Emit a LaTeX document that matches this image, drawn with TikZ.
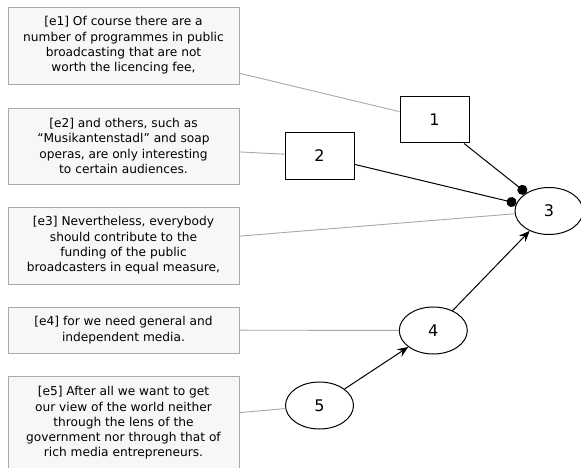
\documentclass[tikz,border=0pt]{standalone}
\usepackage{fontspec}
\setmainfont{DejaVu Sans}
\usetikzlibrary{shapes.geometric,arrows.meta}
\definecolor{boxfill}{HTML}{F7F7F7}
\definecolor{boxline}{HTML}{AAAAAA}
\definecolor{linkgray}{HTML}{A8A8A8}
\tikzset{
  textbox/.style={draw=boxline, fill=boxfill, line width=0.9pt, rectangle, minimum width=231pt, inner sep=0pt, align=center, font=\fontsize{12.2}{15.3}\selectfont},
  rectnode/.style={draw=black, line width=1pt, rectangle, minimum width=69pt, minimum height=46pt, inner sep=0pt, font=\fontsize{16}{19}\selectfont},
  ellnode/.style={draw=black, line width=1pt, ellipse, minimum width=68pt, minimum height=47pt, inner sep=0pt, font=\fontsize{16}{19}\selectfont},
  link/.style={draw=linkgray, line width=0.9pt},
  attack/.style={draw=black, line width=1pt, -{Circle[length=10pt]}},
  support/.style={draw=black, line width=1pt, -{Stealth[length=11pt, width=9pt, inset=4pt]}}
}
\begin{document}
\begin{tikzpicture}[x=1pt, y=-1pt]
\useasboundingbox (0,0) rectangle (581,468);
\node[textbox, minimum height=77pt] (e1) at (123.5,45.5) {[e1] Of course there are a\\number of programmes in public\\broadcasting that are not\\worth the licencing fee,};
\node[textbox, minimum height=76pt] (e2) at (123.5,146) {[e2] and others, such as\\“Musikantenstadl” and soap\\operas, are only interesting\\to certain audiences.};
\node[textbox, minimum height=77pt] (e3) at (123.5,245.5) {[e3] Nevertheless, everybody\\should contribute to the\\funding of the public\\broadcasters in equal measure,};
\node[textbox, minimum height=46pt] (e4) at (123.5,330) {[e4] for we need general and\\independent media.};
\node[textbox, minimum height=94pt] (e5) at (123.5,423) {[e5] After all we want to get\\our view of the world neither\\through the lens of the\\government nor through that of\\rich media entrepreneurs.};

\node[rectnode] (n1) at (434.5,120) {1};
\node[rectnode] (n2) at (319.5,156) {2};
\node[ellnode] (n3) at (549,211) {3};
\node[ellnode] (n4) at (433.3,330.5) {4};
\node[ellnode] (n5) at (319.5,405.5) {5};

\draw[link] (e1) -- (n1);
\draw[link] (e2) -- (n2);
\draw[link] (e3) -- (n3);
\draw[link] (e4) -- (n4);
\draw[link] (e5) -- (n5);

\draw[attack] (n1) -- (n3);
\draw[attack] (n2) -- (n3);
\draw[support] (n4) -- (n3);
\draw[support] (n5) -- (n4);
\end{tikzpicture}
\end{document}
